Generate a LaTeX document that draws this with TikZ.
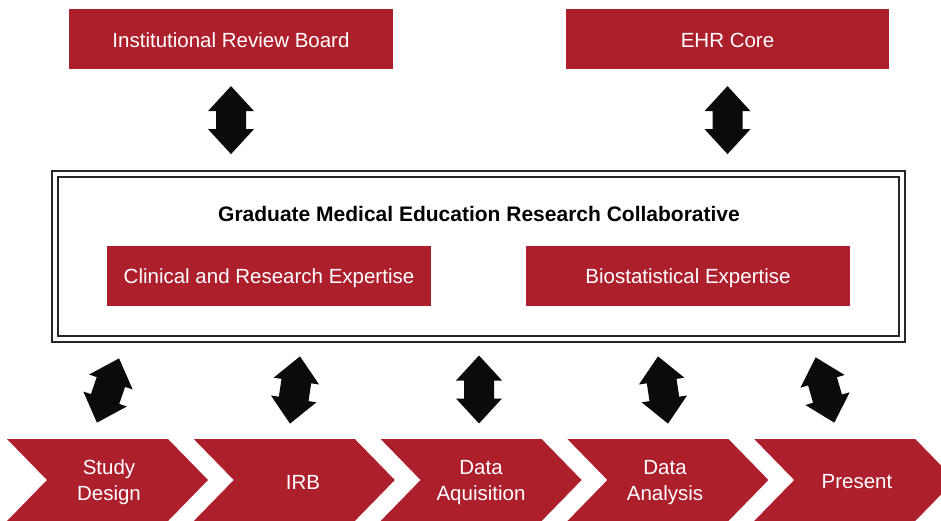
\documentclass[tikz,border=0pt]{standalone}
\usepackage{fontspec}
\setmainfont{Liberation Sans}
\usetikzlibrary{calc}
\definecolor{gmered}{HTML}{AE1F2C}
\definecolor{arrowblack}{HTML}{0A0C0C}
\begin{document}
\begin{tikzpicture}[x=1pt,y=-1pt,
  redbox/.style={fill=gmered, inner sep=0pt, minimum height=60pt},
  boxtext/.style={text=white, inner sep=0pt,
    font=\fontsize{20.5}{25}\selectfont},
  steptext/.style={text=white, align=center, inner sep=0pt,
    font=\fontsize{20.5}{26}\selectfont},
  framebox/.style={draw=black!85, line width=1.3pt},
  dblarrow/.pic={
    \fill[arrowblack] (0,-34) -- (23,-9) -- (15,-9) -- (15,9) -- (23,9)
      -- (0,34) -- (-23,9) -- (-15,9) -- (-15,-9) -- (-23,-9) -- cycle;
  }]
\useasboundingbox (0,0) rectangle (941,520);
\clip (0,0) rectangle (941,520);

% top partners
\node[redbox, minimum width=324pt] (irb) at (231,39) {};
\node[boxtext] (irbT) at ($(irb)+(0,1)$) {Institutional Review Board};
\node[redbox, minimum width=323pt] (ehr) at (727.5,39) {};
\node[boxtext] (ehrT) at ($(ehr)+(0,1)$) {EHR Core};

% collaborative frame (double outline)
\draw[framebox] (52,171) rectangle (905,342);
\draw[framebox] (58,177) rectangle (899,336);
\coordinate (frameN) at (478.5,171);
\coordinate (frameS) at (478.5,342);
\node[font=\bfseries\fontsize{21}{25}\selectfont, inner sep=0pt] (gmerc) at (479,214)
  {Graduate Medical Education Research Collaborative};
\node[redbox, minimum width=324pt] (clin) at (269,276) {};
\node[boxtext] (clinT) at ($(clin)+(0,2)$) {Clinical and Research Expertise};
\node[redbox, minimum width=324pt] (bio) at (688,276) {};
\node[boxtext] (bioT) at ($(bio)+(0,2)$) {Biostatistical Expertise};

% arrows between partners and the collaborative
\path ($(irb.south)!0.5!(irb.south |- frameN)$) pic {dblarrow};
\path ($(ehr.south)!0.5!(ehr.south |- frameN)$) pic {dblarrow};

% process chevrons
\foreach \i in {0,...,4}{
  \pgfmathsetmacro{\xa}{7+186.8*\i}
  \fill[gmered] (\xa,439) -- ({\xa+161},439) -- ({\xa+201},480)
    -- ({\xa+161},521) -- (\xa,521) -- ({\xa+40},480) -- cycle;
}
\node[steptext] (s1) at (109,482.5) {Study\\Design};
\node[steptext] (s2) at (303,482) {IRB};
\node[steptext] (s3) at (481,482.5) {Data\\Aquisition};
\node[steptext] (s4) at (665,482.5) {Data\\Analysis};
\node[steptext] (s5) at (857,482) {Present};

% arrows between the collaborative and each step
\path (108,390.5) pic[rotate=-19] {dblarrow};
\path (295,390) pic[rotate=-8.5] {dblarrow};
\path (479,389.5) pic {dblarrow};
\path (663,390) pic[rotate=8.5] {dblarrow};
\path (825,390) pic[rotate=16] {dblarrow};
\end{tikzpicture}
\end{document}
